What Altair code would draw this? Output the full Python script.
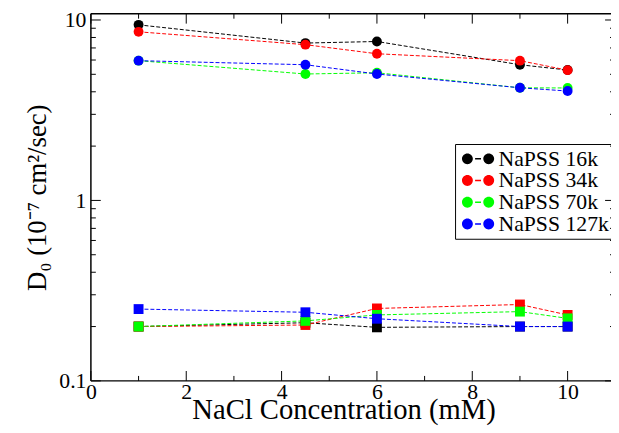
import altair as alt
import pandas as pd

# ---- data ----
conc = [1, 4.5, 6, 9, 10]
series = ["NaPSS 16k", "NaPSS 34k", "NaPSS 70k", "NaPSS 127k"]
colors = ["#000000", "#ff0000", "#00ff00", "#0000ff"]

fast_16k = [9.4, 7.45, 7.6, 5.65, 5.28]
fast_34k = [8.6, 7.3, 6.5, 5.95, 5.27]
fast_70k = [5.95, 5.02, 5.1, 4.21, 4.2]
fast_127k = [5.95, 5.65, 5.02, 4.21, 4.04]

slow_16k = [0.2, 0.21, 0.198, 0.2, 0.2]
slow_34k = [0.2, 0.204, 0.252, 0.265, 0.232]
slow_70k = [0.2, 0.215, 0.232, 0.242, 0.222]
slow_127k = [0.25, 0.24, 0.221, 0.2, 0.2]

x_major = [0, 2, 4, 6, 8, 10]
x_minor = [1, 3, 5, 7, 9]
y_major = [0.1, 1, 10]
y_minor = [0.2, 0.3, 0.4, 0.5, 0.6, 0.7, 0.8, 0.9, 2, 3, 4, 5, 6, 7, 8, 9]

fast = [fast_16k, fast_34k, fast_70k, fast_127k]
slow = [slow_16k, slow_34k, slow_70k, slow_127k]

rows_fast, rows_slow = [], []
for s, f, sl in zip(series, fast, slow):
    for c, v in zip(conc, f):
        rows_fast.append({"conc": c, "D": v, "series": s, "mode": "fast"})
    for c, v in zip(conc, sl):
        rows_slow.append({"conc": c, "D": v, "series": s, "mode": "slow"})
df_fast = pd.DataFrame(rows_fast)
df_slow = pd.DataFrame(rows_slow)
df_all = pd.concat([df_fast, df_slow], ignore_index=True)
df_leg = pd.DataFrame({"series": series, "row": list(range(len(series)))})

W, H = 527, 372
FONT = "Liberation Serif"

xs = alt.Scale(domain=[0, 10.91], nice=False, zero=False)
ys = alt.Scale(type="log", domain=[0.1, 10.83], nice=False)

x_axis = alt.Axis(values=x_major, ticks=False, domain=False, grid=False,
                  labelFlush=False, labelFont=FONT, labelFontSize=22,
                  labelColor="black", labelPadding=1,
                  title="NaCl Concentration (mM)", titleFont=FONT,
                  titleFontSize=29, titleFontWeight="normal", titleColor="black",
                  titleBaseline="alphabetic", titleY=38, titleX=256)
y_axis = alt.Axis(values=y_major, format="~g", ticks=False, domain=False,
                  grid=False, labelFlush=False, labelFont=FONT,
                  labelFontSize=22, labelColor="black", labelPadding=5,
                  title="D\u2080 (10\u207b\u2077 cm\u00b2/sec)", titleFont=FONT,
                  titleFontSize=27, titleFontWeight="normal", titleColor="black",
                  titleAlign="center", titleBaseline="alphabetic",
                  titleX=-46, titleY=H / 2)

X = alt.X("conc:Q", scale=xs, axis=x_axis)
Y = alt.Y("D:Q", scale=ys, axis=y_axis)

cscale = alt.Scale(domain=series, range=colors)
# same colours, but a data-derived domain so these scales keep no legend
aux_scale = alt.Scale(range=colors)

# legend glyph: circle - dash - circle (unit = 8 px with symbolSize 256)
LEG_PATH = ("M-1,0 A0.6875,0.6875 0 1,1 0.375,0 "
            "A0.6875,0.6875 0 1,1 -1,0 Z "
            "M1.70,0 A0.6875,0.6875 0 1,1 3.075,0 "
            "A0.6875,0.6875 0 1,1 1.70,0 Z "
            "M0.66,-0.09 L1.41,-0.09 L1.41,0.09 L0.66,0.09 Z")

LEG_X, LEG_Y, ROW = 369, 132, 22

legend = alt.Legend(title=None, orient="none", legendX=LEG_X, legendY=LEG_Y,
                    symbolType=LEG_PATH, symbolSize=256, symbolStrokeWidth=0,
                    symbolOpacity=1, labelFont=FONT, labelFontSize=22,
                    labelOpacity=0, labelColor="black",
                    fillColor="transparent", strokeColor="black",
                    padding=4, rowPadding=-3, labelOffset=23)

lines = alt.Chart(df_all).mark_line(strokeDash=[4, 2], strokeWidth=1).encode(
    x=X, y=Y,
    stroke=alt.Stroke("series:N", scale=aux_scale, sort=series, legend=None),
    detail="mode:N",
    order="conc:Q",
)

circles = alt.Chart(df_fast).mark_point(filled=True, shape="circle", size=100,
                                         opacity=1).encode(
    x=X, y=Y,
    color=alt.Color("series:N", scale=cscale, legend=legend),
)

squares = alt.Chart(df_slow).mark_point(filled=True, shape="square", size=100,
                                         opacity=1).encode(
    x=X, y=Y,
    fill=alt.Fill("series:N", scale=aux_scale, sort=series, legend=None),
)

# serif legend labels, aligned with the legend rows
leg_text = alt.Chart(df_leg).transform_calculate(
    ly=f"{LEG_Y + 15} + datum.row * {ROW}"
).mark_text(font=FONT, fontSize=22, align="left", baseline="middle",
            color="black").encode(
    x=alt.value(LEG_X + 44),
    y=alt.Y("ly:Q", scale=None),
    text="series:N",
)

# ---- frame and inward ticks ----
one = alt.Data(values=[{"k": 0}])
frame_top = alt.Chart(one).mark_rule(color="black", strokeWidth=1.5).encode(
    x=alt.value(0), x2=alt.value(W), y=alt.value(0))
frame_bottom = alt.Chart(one).mark_rule(color="black", strokeWidth=1.5).encode(
    x=alt.value(0), x2=alt.value(W), y=alt.value(H))
frame_left = alt.Chart(one).mark_rule(color="black", strokeWidth=1.5).encode(
    x=alt.value(0), y=alt.value(0), y2=alt.value(H))

dxM = pd.DataFrame({"conc": x_major})
dxm = pd.DataFrame({"conc": x_minor})
dyM = pd.DataFrame({"D": y_major})
dym = pd.DataFrame({"D": y_minor})


def xticks(d, y0, y1):
    return alt.Chart(d).mark_rule(color="black", strokeWidth=1).encode(
        x=X, y=alt.value(y0), y2=alt.value(y1))


def yticks(d, x0, x1):
    return alt.Chart(d).mark_rule(color="black", strokeWidth=1).encode(
        y=Y, x=alt.value(x0), x2=alt.value(x1))


ticks = [
    xticks(dxM, H, H - 10), xticks(dxm, H, H - 5),
    xticks(dxM, 0, 10), xticks(dxm, 0, 5),
    yticks(dyM, 0, 10), yticks(dym, 0, 5),
    yticks(dyM, W, W - 6), yticks(dym, W, W - 1),
]

chart = alt.layer(lines, circles, squares, frame_top, frame_bottom, frame_left,
                  *ticks, leg_text).properties(
    width=W, height=H,
    padding={"left": 84, "top": 3, "right": 0, "bottom": 50},
    autosize=alt.AutoSizeParams(type="none"),
    background="white",
).configure(font=FONT).configure_view(stroke=None)

chart.save("out.html", embed_options={"renderer": "svg", "actions": False})
